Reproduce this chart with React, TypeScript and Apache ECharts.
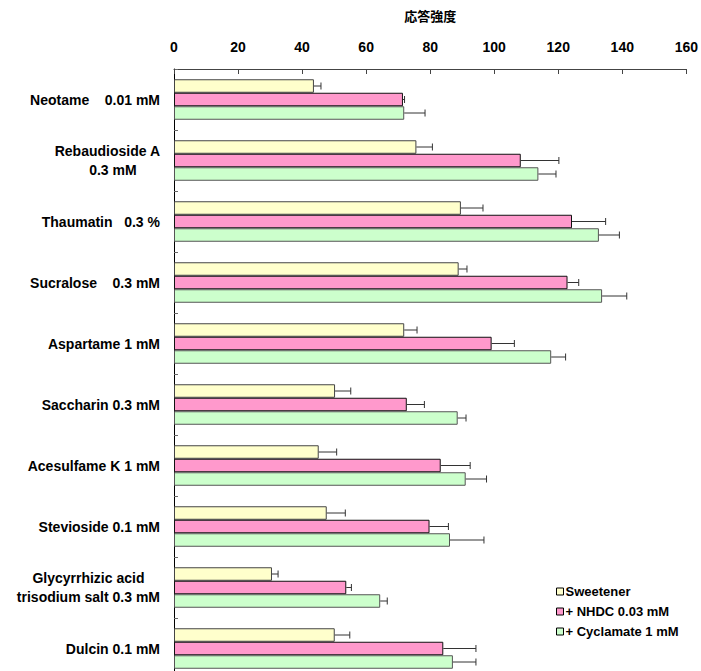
import React, { useEffect, useRef } from "react";
import * as echarts from "echarts";

const S = "\u00A0";

const categories = [
  "Neotame" + S + S + S + S + "0.01 mM",
  "Rebaudioside A\n0.3 mM" + S.repeat(6),
  "Thaumatin" + S + S + S + "0.3 %",
  "Sucralose" + S + S + S + S + "0.3 mM",
  "Aspartame 1 mM",
  "Saccharin 0.3 mM",
  "Acesulfame K 1 mM",
  "Stevioside 0.1 mM",
  "Glycyrrhizic acid" + S.repeat(4) + "\ntrisodium salt 0.3 mM",
  "Dulcin 0.1 mM",
];

const seriesNames = ["Sweetener", "+ NHDC 0.03 mM", "+ Cyclamate 1 mM"];

const sweetener = [43.7, 75.7, 89.6, 88.9, 71.9, 50.3, 45.2, 47.7, 30.6, 50.2];
const sweetenerErr = [2.2, 5.0, 6.9, 2.6, 4.0, 4.9, 5.6, 5.8, 1.9, 4.7];

const nhdc = [71.5, 108.3, 124.3, 122.9, 99.2, 72.7, 83.3, 79.8, 53.8, 84.1];
const nhdcErr = [0.5, 11.9, 10.5, 3.5, 7.1, 5.5, 9.2, 5.9, 1.6, 10.2];

const cyclamate = [71.9, 113.8, 132.7, 133.7, 117.8, 88.6, 91.1, 86.2, 64.4, 87.1];
const cyclamateErr = [6.5, 5.5, 6.4, 7.7, 4.5, 2.6, 6.5, 10.6, 2.2, 7.2];

const xTicks = { min: 0, max: 160, interval: 20 };

const colors = ["#FFFFCC", "#FF99CC", "#CCFFCC"];
const borders = ["#444444", "#111111", "#555555"];

const BAR_W = 13.5;

export default function App() {
  const ref = useRef<HTMLDivElement>(null);
  useEffect(() => {
    document.body.style.margin = "0";
    document.body.style.overflow = "hidden";
    if (!ref.current) return;
    const chart = echarts.init(ref.current, undefined, { renderer: "svg" });
    const values = [sweetener, nhdc, cyclamate];
    const errs = [sweetenerErr, nhdcErr, cyclamateErr];
    const font = "Liberation Sans, Arial, sans-serif";

    const barSeries = values.map((vals, i) => ({
      name: seriesNames[i],
      type: "bar",
      data: vals,
      barWidth: BAR_W,
      barGap: "0%",
      itemStyle: { color: colors[i], borderColor: borders[i], borderWidth: 1 },
      z: 2,
    }));

    const errSeries = values.map((vals, i) => ({
      name: "err" + i,
      type: "custom",
      data: vals.map((v, k) => [v, errs[i][k], k]),
      encode: { x: [0], y: 2 },
      z: 3,
      renderItem: (params: any, api: any) => {
        const v = api.value(0);
        const e = api.value(1);
        const k = api.value(2);
        const p0 = api.coord([v, k]);
        const p1 = api.coord([v + e, k]);
        const y = p0[1] + (i - 1) * BAR_W;
        const style = { stroke: "#333", lineWidth: 1 };
        return {
          type: "group",
          children: [
            { type: "line", shape: { x1: p0[0], y1: y, x2: p1[0], y2: y }, style },
            { type: "line", shape: { x1: p1[0], y1: y - 3.5, x2: p1[0], y2: y + 3.5 }, style },
          ],
        };
      },
    }));

    chart.setOption({
      animation: false,
      backgroundColor: "#fff",
      textStyle: { fontFamily: font },
      grid: { left: 174, top: 69, width: 513, height: 610 },
      legend: {
        data: seriesNames,
        orient: "vertical",
        left: 551,
        top: 580,
        itemWidth: 7,
        itemHeight: 7,
        itemGap: 7,
        icon: "rect",
        itemStyle: { borderColor: "#000", borderWidth: 1 },
        textStyle: { fontSize: 13, fontWeight: "bold", color: "#000", fontFamily: font, padding: [0, 0, 0, -3] },
      },
      xAxis: {
        type: "value",
        position: "top",
        min: xTicks.min,
        max: xTicks.max,
        interval: xTicks.interval,
        name: "応答強度",
        nameLocation: "middle",
        nameGap: 47,
        nameTextStyle: { fontSize: 13, fontWeight: "bold", color: "#000", fontFamily: "Noto Sans CJK JP" },
        axisLine: { show: true, lineStyle: { color: "#444", width: 1 } },
        axisTick: { show: true, inside: true, length: 5, lineStyle: { color: "#444" } },
        axisLabel: { fontSize: 14, fontWeight: "bold", color: "#000", margin: 15 },
        splitLine: { show: false },
      },
      yAxis: {
        type: "category",
        inverse: true,
        data: categories,
        axisLine: { show: true, lineStyle: { color: "#000", width: 1 } },
        axisTick: { show: true, inside: true, length: 4, lineStyle: { color: "#666" } },
        axisLabel: { fontSize: 14, fontWeight: "bold", color: "#000", margin: 14, lineHeight: 19 },
      },
      series: [...barSeries, ...errSeries],
    });
    return () => chart.dispose();
  }, []);
  return (
    <div style={{ width: 701, height: 671, overflow: "hidden" }}>
      <div ref={ref} style={{ width: 701, height: 700 }} />
    </div>
  );
}
